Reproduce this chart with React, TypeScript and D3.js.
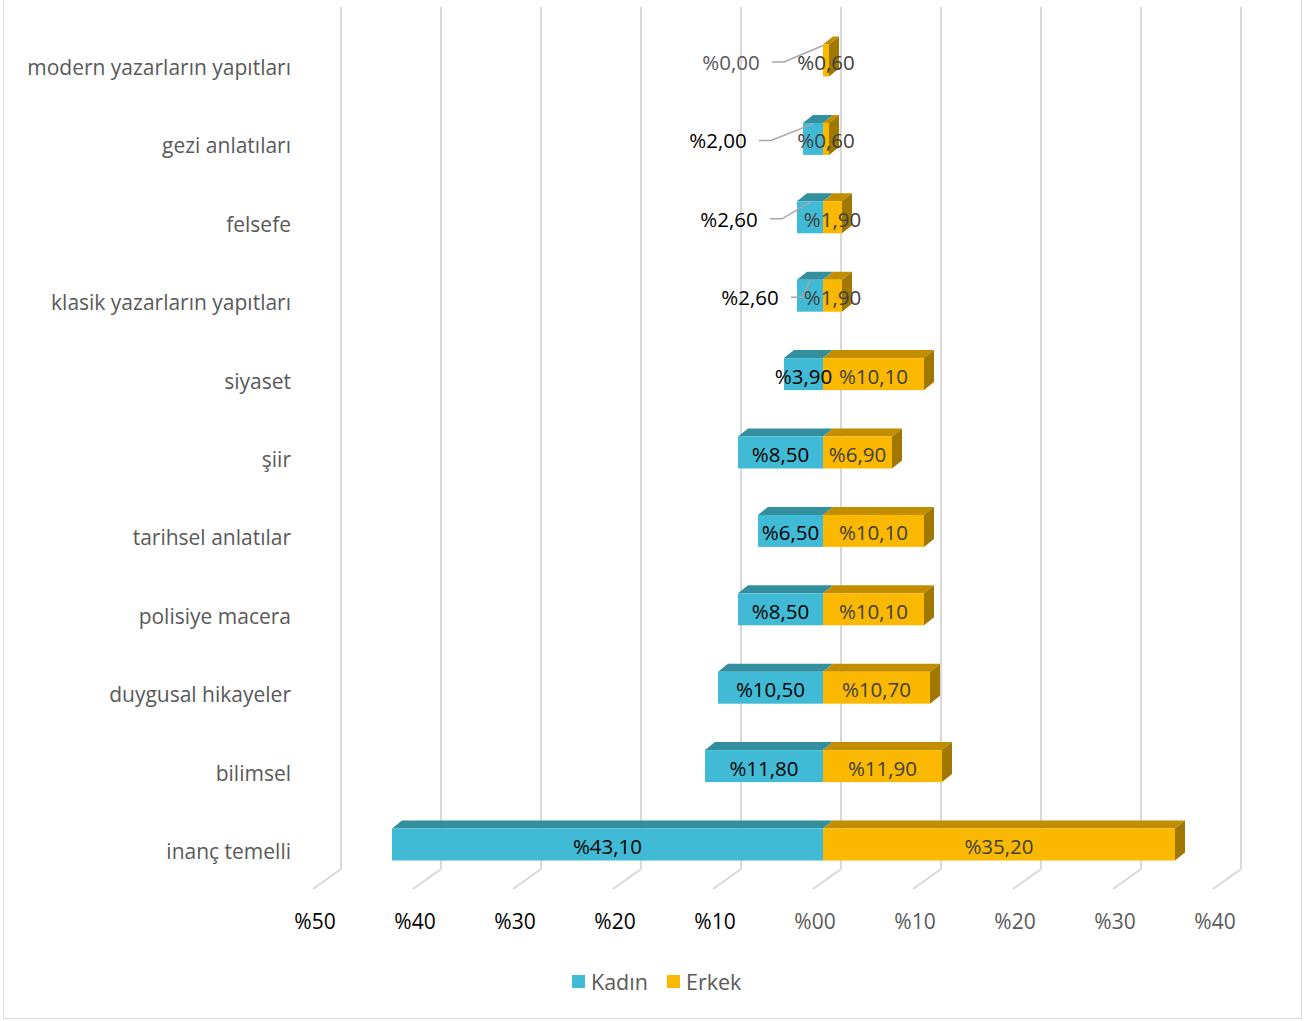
import React from "react";
import * as d3 from "d3";

const categories = [
  "modern yazarların yapıtları",
  "gezi anlatıları",
  "felsefe",
  "klasik yazarların yapıtları",
  "siyaset",
  "şiir",
  "tarihsel anlatılar",
  "polisiye macera",
  "duygusal hikayeler",
  "bilimsel",
  "inanç temelli",
];
const kadin = [0.0, 2.0, 2.6, 2.6, 3.9, 8.5, 6.5, 8.5, 10.5, 11.8, 43.1];
const erkek = [0.6, 0.6, 1.9, 1.9, 10.1, 6.9, 10.1, 10.1, 10.7, 11.9, 35.2];
const tickValues = [-50, -40, -30, -20, -10, 0, 10, 20, 30, 40];
// callout placement (label shift from segment middle, px) for small Kadın values
const calloutDx = [-92, -95, -81, -60, null, null, null, null, null, null, null];

const fmt = (v: number) => "%" + Math.abs(v).toFixed(2).replace(".", ",");
const fmtTick = (v: number) => "%" + String(Math.abs(v)).padStart(2, "0");

const W = 1305;
const H = 1021;
const FONT = "'Open Sans', sans-serif";
const C = {
  kFront: "#41BBD5",
  kTop: "#338E9E",
  eFront: "#FBB800",
  eTop: "#C28E00",
  eSide: "#A07700",
  grid: "#D9D9D9",
  text: "#595959",
};

export default function App() {
  const xBar = d3.scaleLinear().domain([-50, 40]).range([323, 1223]);
  const xBack = d3.scaleLinear().domain([-50, 40]).range([341, 1241]);
  const xFront = d3.scaleLinear().domain([-50, 40]).range([313, 1213]);
  const yRow = d3.scalePoint<string>().domain(categories).range([67, 851]);
  const barH = 32;
  const dx = 10;
  const dy = 8;
  const gridTop = 7;
  const gridBottom = 869;

  return (
    <svg width={W} height={H} style={{ position: "absolute", left: 0, top: 0 }} fontFamily={FONT}>
      <rect x={0} y={0} width={W} height={H} fill="#fff" />
      <rect x={3.5} y={-2} width={1298} height={1020.5} fill="none" stroke="#D9D9D9" strokeWidth={1} />
      {/* gridlines */}
      {tickValues.map((t) => (
        <path
          key={"g" + t}
          d={`M${xBack(t)},${gridTop} L${xBack(t)},${gridBottom} L${xFront(t)},${gridBottom + 20}`}
          fill="none"
          stroke={C.grid}
          strokeWidth={2}
        />
      ))}
      {/* tick labels */}
      {tickValues.map((t) => (
        <text
          key={"t" + t}
          x={xFront(t) + 2}
          y={921}
          textAnchor="middle"
          dominantBaseline="central"
          fontSize={21}
          fill={t < 0 ? "#000" : C.text}
        >
          {fmtTick(t)}
        </text>
      ))}
      {/* category labels */}
      {categories.map((c) => (
        <text
          key={"c" + c}
          x={291}
          y={yRow(c)}
          textAnchor="end"
          dominantBaseline="central"
          fontSize={21}
          fill={C.text}
        >
          {c}
        </text>
      ))}
      {/* bars */}
      {categories.map((c, i) => {
        const cy = (yRow(c) as number) - 6.5;
        const yt = cy - barH / 2;
        const yb = cy + barH / 2;
        const x0 = xBar(0);
        const xk = xBar(-kadin[i]);
        const xe = xBar(erkek[i]);
        return (
          <g key={"b" + c}>
            {kadin[i] > 0 && (
              <g>
                <path d={`M${xk},${yt} L${xk + dx},${yt - dy} L${x0 + dx},${yt - dy} L${x0},${yt} Z`} fill={C.kTop} />
                <rect x={xk} y={yt} width={x0 - xk} height={barH} fill={C.kFront} />
              </g>
            )}
            {erkek[i] > 0 && (
              <g>
                <path d={`M${x0},${yt} L${x0 + dx},${yt - dy} L${xe + dx},${yt - dy} L${xe},${yt} Z`} fill={C.eTop} />
                <path d={`M${xe},${yt} L${xe + dx},${yt - dy} L${xe + dx},${yb - dy} L${xe},${yb} Z`} fill={C.eSide} />
                <rect x={x0} y={yt} width={xe - x0} height={barH} fill={C.eFront} />
              </g>
            )}
          </g>
        );
      })}
      {/* data labels */}
      {categories.map((c, i) => {
        const cy = (yRow(c) as number) - 6.5;
        const yt = cy - barH / 2;
        const x0 = xBar(0);
        const kMid = (xBar(-kadin[i]) + x0) / 2;
        const eMid = (xBar(erkek[i]) + x0) / 2;
        const off = calloutDx[i];
        const ly = cy + 1.5;
        return (
          <g key={"l" + c} fontSize={20.5}>
            {off !== null ? (
              <g>
                <path
                  d={`M${kMid + off + 41},${ly} L${kMid + off + 53},${ly} L${kMid},${yt + 1}`}
                  fill="none"
                  stroke="#A6A6A6"
                  strokeWidth={1.5}
                />
                <text x={kMid + off} y={ly} textAnchor="middle" dominantBaseline="central" fill={i === 0 ? C.text : "#000"}>
                  {fmt(kadin[i])}
                </text>
              </g>
            ) : (
              <text x={kMid} y={ly} textAnchor="middle" dominantBaseline="central" fill="#000">
                {fmt(kadin[i])}
              </text>
            )}
            <text x={eMid} y={ly} textAnchor="middle" dominantBaseline="central" fill="#404040">
              {fmt(erkek[i])}
            </text>
          </g>
        );
      })}
      {/* legend */}
      <rect x={572} y={975} width={13} height={13} fill={C.kFront} />
      <text x={591} y={981.5} dominantBaseline="central" fontSize={21.5} fill={C.text}>
        Kadın
      </text>
      <rect x={667} y={975} width={13} height={13} fill={C.eFront} />
      <text x={686} y={981.5} dominantBaseline="central" fontSize={21.5} fill={C.text}>
        Erkek
      </text>
    </svg>
  );
}
